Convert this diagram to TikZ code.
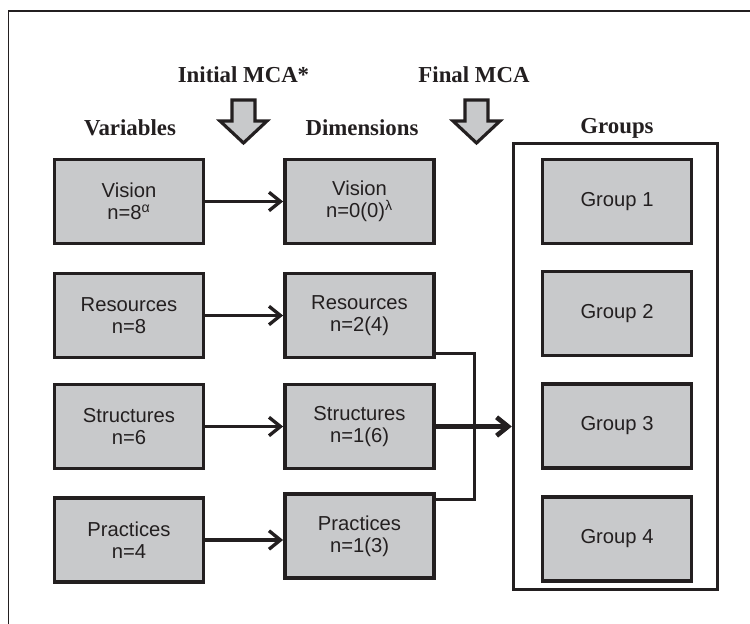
\documentclass[tikz,border=0pt]{standalone}
\usepackage{fontspec}
\setmainfont{Liberation Serif}
\setsansfont{Liberation Sans}
\usetikzlibrary{arrows.meta}
\definecolor{boxgray}{RGB}{200,201,203}
\definecolor{ink}{RGB}{35,31,32}
\begin{document}
\begin{tikzpicture}[x=0.02cm,y=-0.02cm,
    box/.style={draw=ink,fill=boxgray,line width=2.2pt,minimum width=2.98cm,
        minimum height=1.68cm,inner sep=0pt,align=center,text=ink,
        font={\fontsize{11.5}{12.5}\selectfont\sffamily}},
    head/.style={text=ink,font={\fontsize{13}{14}\selectfont\bfseries}},
    link/.style={draw=ink,line width=1.9pt,-{Straight Barb[length=6.5pt,width=10.5pt]}},
    merge/.style={draw=ink,line width=1.7pt}]
\useasboundingbox (0,0) rectangle (750,624);
\draw[ink,line width=0.9pt] (8.5,624) |- (750,11);
% headings
\node[head] (hinit) at (243.5,75) {Initial MCA*};
\node[head] (hfinal) at (474,75) {Final MCA};
\node[head] (hvar) at (130,128) {Variables};
\node[head] (hdim) at (362,128) {Dimensions};
\node[head] (hgrp) at (617,128) {Groups};
\foreach \c in {243.5,476.5}
  \draw[ink,fill=boxgray,line width=1.8pt,line join=miter]
    (\c-11.5,100) -- (\c+11.5,100) -- (\c+11.5,121) -- (\c+23.5,121)
    -- (\c,143) -- (\c-23.5,121) -- (\c-11.5,121) -- cycle;
% variables
\node[box] (vv) at (129,201.5) {Vision\\n=8\textsuperscript{α}};
\node[box] (rv) at (129,315.5) {Resources\\n=8};
\node[box] (sv) at (129,426.5) {Structures\\n=6};
\node[box] (pv) at (129,540) {Practices\\n=4};
% dimensions
\node[box] (vd) at (359.5,201.5) {Vision\\n=0(0)\textsuperscript{λ}};
\node[box] (rd) at (359.5,315.5) {Resources\\n=2(4)};
\node[box] (sd) at (359.5,426.5) {Structures\\n=1(6)};
\node[box] (pd) at (359.5,536) {Practices\\n=1(3)};
% groups
\node[draw=ink,line width=1.7pt,minimum width=4.09cm,minimum height=8.93cm] (grp) at (615.5,366.5) {};
\node[box] (g1) at (617,201.5) {Group 1};
\node[box] (g2) at (617,313.5) {Group 2};
\node[box] (g3) at (617,426) {Group 3};
\node[box] (g4) at (617,539) {Group 4};
\draw[link] (vv) -- (vd);
\draw[link] (rv) -- (rd);
\draw[link] (sv) -- (sd);
\draw[link] (pv.east) -- (pv.east -| pd.west);
\coordinate (join) at (474,426.5);
\draw[merge] ([yshift=0.11cm]rd.south east) -| (join) |- ([yshift=-0.15cm]pd.north east);
\draw[link,line width=2.7pt] (sd) -- (sd -| grp.west);
\end{tikzpicture}
\end{document}
